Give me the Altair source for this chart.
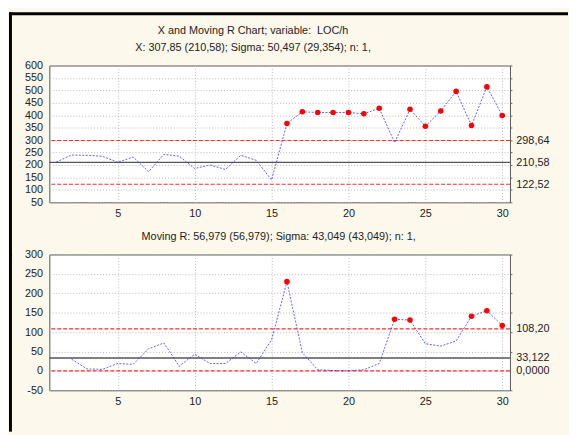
import altair as alt
import pandas as pd

# ---------------- data ----------------
sample_idx = list(range(1, 31))
x_values = [212, 240, 239, 235, 211, 232, 173, 243, 235, 186, 200, 182, 239, 219, 140,
            367, 414, 411, 411, 411, 406, 428, 290, 424, 356, 417, 496, 359, 514, 399]
mr_values = [None, 30, 5, 4, 19, 17, 57, 72, 12, 43, 19, 19, 49, 19, 80,
             230, 47, 3, 1, 0, 3, 19, 133, 131, 70, 64, 77, 141, 155, 117]
x_limits = [298.64, 210.58, 122.52]     # UCL, CL, LCL
x_limit_labels = ["298,64", "210,58", "122,52"]
mr_limits = [108.20, 33.122, 0.0]       # UCL, CL, LCL
mr_limit_labels = ["108,20", "33,122", "0,0000"]
x_yticks = list(range(50, 601, 50))
mr_yticks = list(range(-50, 301, 50))
x_ticks = [5, 10, 15, 20, 25, 30]
title_main = "X and Moving R Chart; variable:\u00a0 LOC/h"
title_x = "X: 307,85 (210,58); Sigma: 50,497 (29,354); n: 1,"
title_mr = "Moving R: 56,979 (56,979); Sigma: 43,049 (43,049); n: 1,"

FONT = "Liberation Sans"
TXT = "#222222"
W = 468
H_TOP = 139
H_BOT = 138
GAP = 53


def text_line(t, x, y):
    return alt.Chart(alt.Data(values=[{"t": t}])).mark_text(
        font=FONT, fontSize=11, color=TXT, align="center", baseline="middle"
    ).encode(text="t:N", x=alt.value(x), y=alt.value(y))


def panel(values, limits, limit_labels, ydomain, yticks, height, frame_rects, titles):
    df = pd.DataFrame({"i": sample_idx, "v": values}).dropna()
    base = alt.Chart(df)
    ucl, cl, lcl = limits

    xenc = alt.X("i:Q", scale=alt.Scale(domain=[0.55, 30.5], nice=False, zero=False),
                 axis=alt.Axis(values=x_ticks, grid=True, gridColor="#b8b8b8", gridDash=[1, 2],
                               tickSize=0, labelPadding=5, domain=False, title=None,
                               labelFont=FONT, labelFontSize=11, labelColor=TXT,
                               labelFlush=False))
    yscale = alt.Scale(domain=ydomain, nice=False, zero=False)

    # black window frame pieces
    frames = [alt.Chart(alt.Data(values=[{"k": 0}])).mark_rect(color="black", strokeWidth=0).encode(
        x=alt.value(r[0]), x2=alt.value(r[1]), y=alt.value(r[2]), y2=alt.value(r[3]))
        for r in frame_rects]
    heads = [text_line(t, x, y) for (t, x, y) in titles]

    lim_df = pd.DataFrame({"y": [ucl, lcl]})
    red_rules = alt.Chart(lim_df).mark_rule(color="#ff2a2a", strokeDash=[4, 2], strokeWidth=1.2).encode(
        y=alt.Y("y:Q", scale=yscale, axis=None))

    label_vals = sorted(set(yticks) | set(limits))
    lim_list = "[" + ",".join(repr(float(v)) for v in limits) + "]"
    test = f"indexof({lim_list}, datum.value) >= 0"
    expr = "''"
    for v, lab in zip(limits, limit_labels):
        expr = f"datum.value == {float(v)!r} ? '{lab}' : ({expr})"
    right_axis = alt.Axis(
        orient="right", values=label_vals, grid=False, domain=False, title=None,
        tickSize=2, tickColor="#666666",
        tickOpacity={"condition": {"test": test, "value": 0}, "value": 1},
        labelPadding=4, labelOverlap=False, labelFont=FONT, labelFontSize=11, labelColor=TXT,
        labelExpr=expr,
    )
    cl_rule = alt.Chart(pd.DataFrame({"y": [cl]})).mark_rule(color="#555555", strokeWidth=1.5).encode(
        y=alt.Y("y:Q", scale=yscale, axis=right_axis))

    left_axis = alt.Axis(values=yticks, grid=True, gridColor="#b8b8b8", gridDash=[1, 2],
                         tickSize=0, labelPadding=7, domain=False, title=None,
                         labelFont=FONT, labelFontSize=11, labelColor=TXT, labelOverlap=False,
                         labelExpr="'' + datum.value")
    line = base.mark_line(color="#3535ff", strokeWidth=1, strokeDash=[2, 1.5], opacity=0.8).encode(
        x=xenc, y=alt.Y("v:Q", scale=yscale, axis=left_axis))
    pts = base.transform_filter(f"datum.v > {ucl} || datum.v < {lcl}").mark_circle(
        color="#ff0000", size=32, opacity=1).encode(
        x=alt.X("i:Q"), y=alt.Y("v:Q", scale=yscale, axis=None))

    return alt.layer(*frames, *heads, red_rules, cl_rule, line, pts).resolve_axis(
        y="independent").properties(width=W, height=height)


top = panel(
    x_values, x_limits, x_limit_labels, [50, 600], x_yticks, H_TOP,
    [(-41, -38, -54, H_TOP + GAP + 2), (-41, 527, -54, -51)],
    [(title_main, 207, -35), (title_x, 207, -18)],
)
bottom = panel(
    mr_values, mr_limits, mr_limit_labels, [-50, 300], mr_yticks, H_BOT,
    [(-41, -38, 0, 180)],
    [(title_mr, 233, -18)],
)

chart = alt.vconcat(top, bottom, spacing=GAP, bounds="flush").properties(
    padding=0, background="#fdf8ec"
).configure_view(fill="white", stroke="#555555", strokeWidth=1)

chart.save("out.html", embed_options={"renderer": "svg", "actions": False})
